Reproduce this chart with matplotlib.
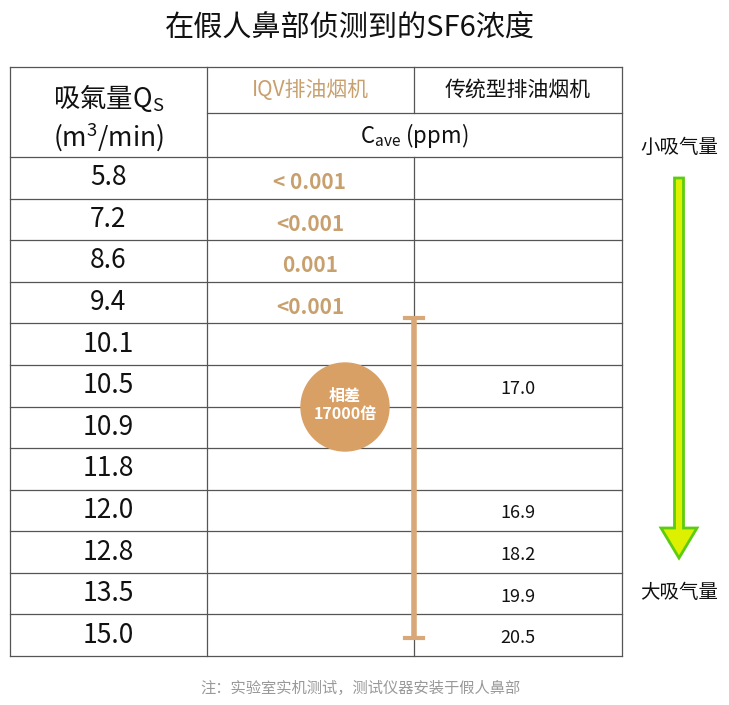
import matplotlib
matplotlib.use("Agg")
import matplotlib.pyplot as plt
from matplotlib.patches import Circle, FancyArrow

plt.rcParams['font.family'] = ['Noto Sans CJK SC', 'DejaVu Sans']

qs = ["5.8", "7.2", "8.6", "9.4", "10.1", "10.5", "10.9", "11.8", "12.0", "12.8", "13.5", "15.0"]
iqv = ["< 0.001", "<0.001", "0.001", "<0.001", "", "", "", "", "", "", "", ""]
trad = ["", "", "", "", "", "17.0", "", "", "16.9", "18.2", "19.9", "20.5"]

W, H = 729, 705
fig = plt.figure(figsize=(W/100, H/100), dpi=100)
ax = fig.add_axes([0, 0, 1, 1])
ax.set_xlim(0, W); ax.set_ylim(H, 0); ax.axis('off')

tan = '#c8a06e'
lc = '#555555'
x0, x1, x2, x3 = 10, 207, 414, 622
ytop, yh1, yh2, ybot = 67, 113, 157, 656
n = len(qs)
rh = (ybot - yh2) / n

ax.text(350, 28, "在假人鼻部侦测到的SF6浓度", ha='center', va='center', fontsize=21, color='#111')

lw = 0.9
for y in [ytop, yh2, ybot] + [yh2 + i*rh for i in range(1, n)]:
    ax.plot([x0, x3], [y, y], color=lc, lw=lw)
ax.plot([x1, x3], [yh1, yh1], color=lc, lw=lw)
for x in [x0, x1, x3]:
    ax.plot([x, x], [ytop, ybot], color=lc, lw=lw)
ax.plot([x2, x2], [ytop, yh1], color=lc, lw=lw)
ax.plot([x2, x2], [yh2, ybot], color=lc, lw=lw)

ax.text((x0+x1)/2, 98, r"吸氣量Q$_\mathregular{S}$", ha='center', va='center', fontsize=19, color='#111')
ax.text((x0+x1)/2, 137, r"(m$^\mathregular{3}$/min)", ha='center', va='center', fontsize=19, color='#111')
ax.text((x1+x2)/2, 90, "IQV排油烟机", ha='center', va='center', fontsize=15, color=tan)
ax.text((x2+x3)/2, 90, "传统型排油烟机", ha='center', va='center', fontsize=15, color='#111')
ax.text((x1+x3)/2, 135, r"C$_\mathregular{ave}$ (ppm)", ha='center', va='center', fontsize=16, color='#111')

for i in range(n):
    yc = yh2 + (i + 0.5)*rh
    ax.text((x0+x1)/2, yc, qs[i], ha='center', va='center', fontsize=19, color='#111')
    if iqv[i]:
        ax.text(310, yc + 5, iqv[i], ha='center', va='center', fontsize=15, color=tan, fontweight='bold')
    if trad[i]:
        ax.text(518, yc + 3, trad[i], ha='center', va='center', fontsize=13, color='#111')

bc = '#d8a878'
ax.plot([x2, x2], [318, 638], color=bc, lw=4, solid_capstyle='butt', zorder=3)
for y in [318, 638]:
    ax.plot([x2-9, x2+9], [y, y], color=bc, lw=3, zorder=3)
ax.add_patch(Circle((345, 407), 44, color='#d9a066', zorder=4))
ax.text(345, 396, "相差", ha='center', va='center', fontsize=11.5, color='white', fontweight='bold', zorder=5)
ax.text(345, 414, "17000倍", ha='center', va='center', fontsize=11.5, color='white', fontweight='bold', zorder=5)

ax.text(679, 147, "小吸气量", ha='center', va='center', fontsize=14, color='#111')
ax.text(679, 593, "大吸气量", ha='center', va='center', fontsize=14, color='#111')
ax.add_patch(FancyArrow(679, 178, 0, 380, width=9, head_width=36, head_length=30,
                        length_includes_head=True, facecolor='#dcf000', edgecolor='#5ccc10', lw=2))

ax.text(360, 688, "注：实验室实机测试，测试仪器安装于假人鼻部", ha='center', va='center', fontsize=11, color='#999')

fig.savefig("out.png", dpi=100)
